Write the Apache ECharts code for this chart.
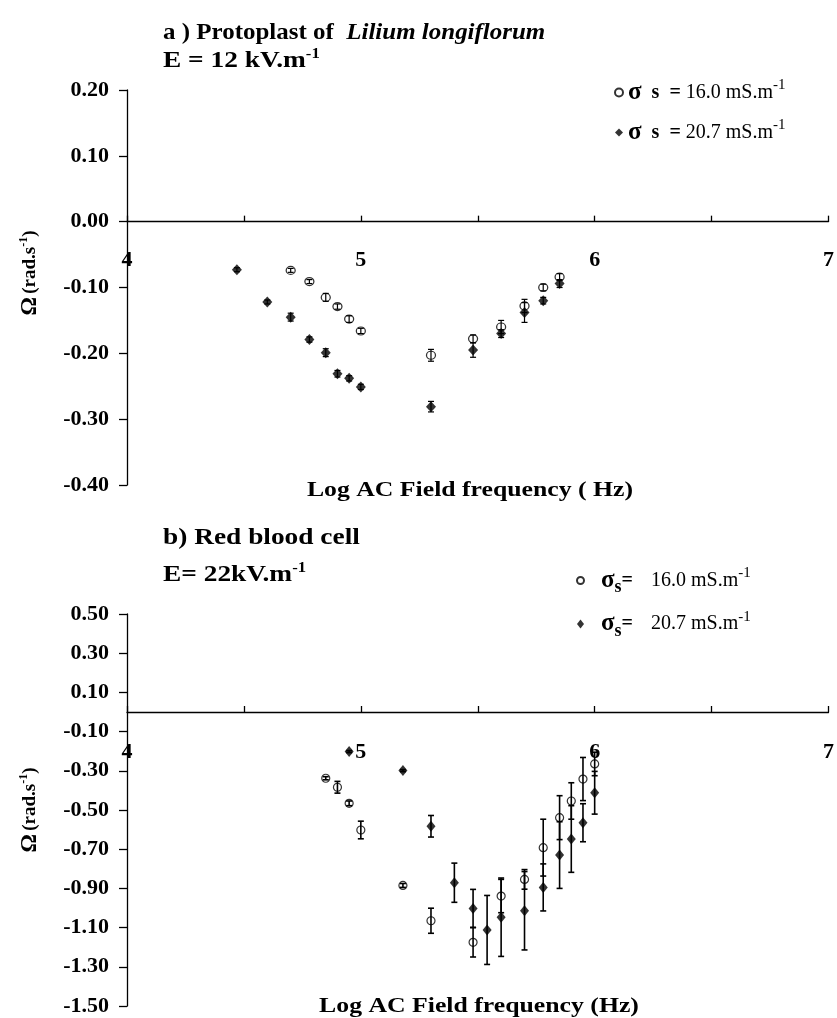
<!DOCTYPE html>
<html><head><meta charset="utf-8">
<script src="https://cdn.jsdelivr.net/npm/echarts@6/dist/echarts.min.js"></script>
<style>html,body{margin:0;padding:0;background:#fff}#c{width:837px;height:1018px}</style>
</head><body><div id="c"></div>
<script>
// ---------- Panel a: Protoplast of Lilium longiflorum ----------
const aFreq16  = [4.70, 4.78, 4.85, 4.90, 4.95, 5.00, 5.30, 5.48, 5.60, 5.70, 5.78, 5.85];
const aOmega16 = [-0.074, -0.091, -0.115, -0.129, -0.148, -0.166, -0.203, -0.178, -0.160, -0.128, -0.100, -0.084];
const aErr16   = [0.003, 0.003, 0.006, 0.004, 0.005, 0.004, 0.009, 0.006, 0.010, 0.010, 0.005, 0.005];
const aFreq20  = [4.47, 4.60, 4.70, 4.78, 4.85, 4.90, 4.95, 5.00, 5.30, 5.48, 5.60, 5.70, 5.78, 5.85];
const aOmega20 = [-0.073, -0.122, -0.145, -0.179, -0.199, -0.231, -0.238, -0.251, -0.281, -0.195, -0.170, -0.138, -0.120, -0.094];
const aErr20   = [0.003, 0.003, 0.006, 0.004, 0.006, 0.005, 0.004, 0.004, 0.008, 0.011, 0.006, 0.015, 0.005, 0.006];
// ---------- Panel b: Red blood cell ----------
const bFreq16  = [4.85, 4.90, 4.95, 5.00, 5.18, 5.30, 5.48, 5.60, 5.70, 5.78, 5.85, 5.90, 5.95, 6.00];
const bOmega16 = [-0.338, -0.384, -0.466, -0.602, -0.885, -1.065, -1.175, -0.939, -0.854, -0.692, -0.539, -0.454, -0.342, -0.265];
const bErr16   = [0.008, 0.030, 0.012, 0.045, 0.010, 0.064, 0.075, 0.085, 0.050, 0.145, 0.112, 0.093, 0.110, 0.060];
const bFreq20  = [4.95, 5.18, 5.30, 5.40, 5.48, 5.54, 5.60, 5.70, 5.78, 5.85, 5.90, 5.95, 6.00];
const bOmega20 = [-0.202, -0.299, -0.583, -0.871, -1.002, -1.112, -1.047, -1.014, -0.895, -0.730, -0.648, -0.565, -0.412];
const bErr20   = [0.005, 0.005, 0.055, 0.100, 0.097, 0.176, 0.200, 0.200, 0.120, 0.170, 0.170, 0.097, 0.109];
// ---------- Tick labels ----------
const xTickLabels = [4, 5, 6, 7];
const aYTicks = [0.2, 0.1, 0, -0.1, -0.2, -0.3, -0.4];
const bYTicks = [0.5, 0.3, 0.1, -0.1, -0.3, -0.5, -0.7, -0.9, -1.1, -1.3, -1.5];
// ---------- Legend values ----------
const legendNames = { a16: '16.0', a20: '20.7', b16: '16.0', b20: '20.7' };

const SERIF = 'Liberation Serif';
const pts = (xs, ys) => xs.map((x, i) => [x, ys[i]]);
const bars = (xs, ys, es) => xs.map((x, i) => [x, ys[i] - es[i], ys[i] + es[i]]);
const fmtY = v => (Math.abs(v) < 1e-9 ? '0.00' : v.toFixed(2));

function errSeries(name, xi, data, w) {
  return {
    type: 'custom', name: name + '_err', xAxisIndex: xi, yAxisIndex: xi, z: 5,
    data: data, silent: true,
    renderItem: function (params, api) {
      const lo = api.coord([api.value(0), api.value(1)]);
      const hi = api.coord([api.value(0), api.value(2)]);
      const c = 3;
      const st = { stroke: '#000', lineWidth: w };
      return { type: 'group', children: [
        { type: 'line', shape: { x1: lo[0], y1: lo[1], x2: hi[0], y2: hi[1] }, style: st },
        { type: 'line', shape: { x1: lo[0] - c, y1: lo[1], x2: lo[0] + c, y2: lo[1] }, style: st },
        { type: 'line', shape: { x1: hi[0] - c, y1: hi[1], x2: hi[0] + c, y2: hi[1] }, style: st }
      ]};
    }
  };
}

function xAxisCfg(gi, margin) {
  return {
    gridIndex: gi, type: 'value', min: 4, max: 7, interval: 0.5,
    axisLine: { onZero: true, lineStyle: { color: '#000', width: 1.3 } },
    axisTick: { inside: true, length: 6, lineStyle: { color: '#000', width: 1.3 } },
    axisLabel: { customValues: xTickLabels, margin: margin, color: '#000', fontFamily: SERIF, fontWeight: 'bold', fontSize: 22 },
    splitLine: { show: false }
  };
}
function yAxisCfg(gi, min, max, interval, ticks) {
  return {
    gridIndex: gi, type: 'value', min: min, max: max, interval: interval,
    axisLine: { onZero: false, lineStyle: { color: '#000', width: 1.3 } },
    axisTick: { inside: false, length: 8, customValues: ticks, lineStyle: { color: '#000', width: 1.3 } },
    axisLabel: { customValues: ticks, formatter: fmtY, margin: 18, color: '#000', fontFamily: SERIF, fontWeight: 'bold', fontSize: 22 },
    splitLine: { show: false }
  };
}

const legRich = {
  sig: { fontFamily: SERIF, fontWeight: 'bold', fontSize: 25, color: '#000' },
  sigB: { fontFamily: SERIF, fontWeight: 'bold', fontSize: 25, color: '#000', padding: [0, 0, 0, 12] },
  b: { fontFamily: SERIF, fontWeight: 'bold', fontSize: 20, color: '#000' },
  n: { fontFamily: SERIF, fontSize: 20, color: '#000' },
  nB: { fontFamily: SERIF, fontSize: 20, color: '#000', padding: [0, 0, 0, 18] },
  sup: { fontFamily: SERIF, fontSize: 15, color: '#000', padding: [0, 0, 14, 0] },
  sub: { fontFamily: SERIF, fontWeight: 'bold', fontSize: 18, color: '#000', padding: [14, 0, 0, 0] }
};

function txt(x, y, richText, rich, sx) {
  return { type: 'text', x: x, y: y, scaleX: sx, style: {
    text: richText, rich: rich, verticalAlign: 'middle', align: 'left' } };
}
const bold = (s) => ({ fontFamily: SERIF, fontWeight: 'bold', fontSize: s, fill: '#000' });
const supS = (s, p) => ({ fontFamily: SERIF, fontWeight: 'bold', fontSize: s, fill: '#000', padding: [0, 0, p, 0] });

const option = {
  animation: false,
  backgroundColor: '#fff',
  grid: [
    { left: 127, top: 90, width: 711, height: 395 },
    { left: 127, top: 614, width: 705, height: 392 }
  ],
  xAxis: [xAxisCfg(0, -236), xAxisCfg(1, -265)],
  yAxis: [yAxisCfg(0, -0.4, 0.2, 0.1, aYTicks), yAxisCfg(1, -1.5, 0.5, 0.1, bYTicks)],
  legend: [
    {
      data: ['a16', 'a20'], orient: 'vertical', left: 609, top: 73, itemGap: 13,
      itemWidth: 8, itemHeight: 8,
      formatter: n => '{sig|σ}{b|  s  = }{n|' + legendNames[n] + ' mS.m}{sup|-1}',
      textStyle: { rich: legRich }
    },
    {
      data: ['b16', 'b20'], orient: 'vertical', left: 571, top: 561, itemGap: 13,
      itemWidth: 7, itemHeight: 9,
      formatter: n => '{sigB|σ}{sub|s}{b|=}{nB|' + legendNames[n] + ' mS.m}{sup|-1}',
      textStyle: { rich: legRich }
    }
  ],
  graphic: [
    txt(163, 33, '{t|a ) Protoplast of  }{i|Lilium longiflorum}', {
      t: bold(24),
      i: { fontFamily: SERIF, fontWeight: 'bold', fontStyle: 'italic', fontSize: 24, fill: '#000' }
    }, 1.04),
    txt(163, 61, '{t|E = 12 kV.m}{s|-1}', { t: bold(23), s: supS(14, 13) }, 1.19),
    { type: 'text', x: 470, y: 490, scaleX: 1.17, style: {
      text: 'Log AC Field frequency ( Hz)', align: 'center', verticalAlign: 'middle',
      font: 'bold 22px "Liberation Serif"', fill: '#000' } },
    txt(163, 538, '{t|b) Red blood cell}', { t: bold(24) }, 1.14),
    txt(163, 575, '{t|E= 22kV.m}{s|-1}', { t: bold(23), s: supS(14, 13) }, 1.19),
    { type: 'text', x: 479, y: 1006, scaleX: 1.17, style: {
      text: 'Log AC Field frequency (Hz)', align: 'center', verticalAlign: 'middle',
      font: 'bold 22px "Liberation Serif"', fill: '#000' } },
    { type: 'text', x: 30, y: 273, rotation: Math.PI / 2, style: {
      text: '{o|Ω} {t|(rad.s}{s|-1}{t|)}', align: 'center', verticalAlign: 'middle',
      rich: { o: bold(23), t: bold(19), s: supS(12, 12) } } },
    { type: 'text', x: 30, y: 810, rotation: Math.PI / 2, style: {
      text: '{o|Ω} {t|(rad.s}{s|-1}{t|)}', align: 'center', verticalAlign: 'middle',
      rich: { o: bold(23), t: bold(19), s: supS(12, 12) } } }
  ],
  series: [
    { type: 'scatter', name: 'a16', xAxisIndex: 0, yAxisIndex: 0, z: 3, symbol: 'circle', symbolSize: [9, 8],
      itemStyle: { color: '#fff', borderColor: '#000', borderWidth: 1.2 }, data: pts(aFreq16, aOmega16) },
    { type: 'scatter', name: 'a20', xAxisIndex: 0, yAxisIndex: 0, z: 3, symbol: 'diamond', symbolSize: [10, 11],
      itemStyle: { color: '#000' }, data: pts(aFreq20, aOmega20) },
    errSeries('a16', 0, bars(aFreq16, aOmega16, aErr16), 1.2),
    errSeries('a20', 0, bars(aFreq20, aOmega20, aErr20), 1.2),
    { type: 'scatter', name: 'b16', xAxisIndex: 1, yAxisIndex: 1, z: 3, symbol: 'circle', symbolSize: 8,
      itemStyle: { color: '#fff', borderColor: '#000', borderWidth: 1.2 }, data: pts(bFreq16, bOmega16) },
    { type: 'scatter', name: 'b20', xAxisIndex: 1, yAxisIndex: 1, z: 3, symbol: 'diamond', symbolSize: [9, 11],
      itemStyle: { color: '#000' }, data: pts(bFreq20, bOmega20) },
    errSeries('b16', 1, bars(bFreq16, bOmega16, bErr16), 1.6),
    errSeries('b20', 1, bars(bFreq20, bOmega20, bErr20), 1.6)
  ]
};
const chart = echarts.init(document.getElementById('c'), null, { renderer: 'canvas' });
chart.setOption(option);
</script>
</body></html>
